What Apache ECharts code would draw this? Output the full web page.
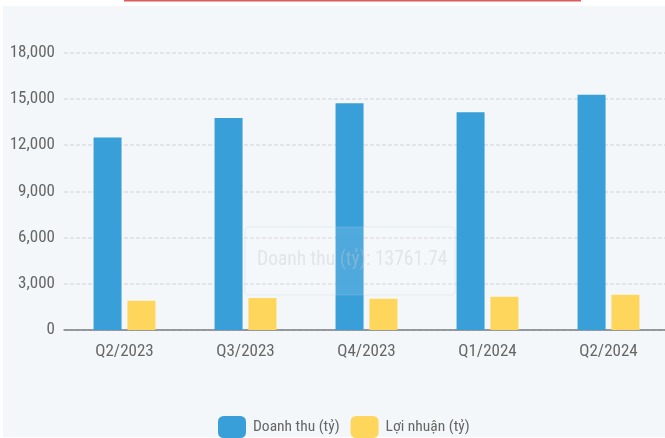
<!DOCTYPE html>
<html>
<head>
<meta charset="utf-8">
<script src="https://cdn.jsdelivr.net/npm/echarts@6/dist/echarts.min.js"></script>
<style>
html,body{margin:0;padding:0;background:#fff;}
#wrap{position:relative;width:665px;height:438px;}
#panel{position:absolute;left:3px;top:6px;width:662px;height:431px;background:#f3f7fa;}
#chart{position:absolute;left:0;top:0;width:665px;height:438px;}
</style>
</head>
<body>
<div id="wrap"><div id="panel"></div><div id="chart"></div></div>
<script>
const categories = ['Q2/2023', 'Q3/2023', 'Q4/2023', 'Q1/2024', 'Q2/2024'];
const revenue = [12500, 13761.74, 14720, 14140, 15280];
const profit = [1900, 2075, 2030, 2160, 2290];
const seriesNames = ['Doanh thu (tỷ)', 'Lợi nhuận (tỷ)'];
const tooltipText = 'Doanh thu (tỷ): 13761.74';

const FONT = '"Roboto Condensed", Roboto, sans-serif';
const chart = echarts.init(document.getElementById('chart'), null, {renderer: 'canvas'});
chart.setOption({
  backgroundColor: 'transparent',
  animation: false,
  textStyle: {fontFamily: FONT},
  grid: {left: 64, right: -4, top: 52.8, bottom: 108, containLabel: false, outerBoundsMode: 'none'},
  legend: {
    top: 411,
    left: 213,
    itemWidth: 28,
    itemHeight: 22,
    itemGap: 11,
    icon: 'roundRect',
    textStyle: {fontSize: 15.5, color: '#666', fontFamily: FONT, padding: [0, 0, 0, 2]},
    data: seriesNames
  },
  xAxis: {
    type: 'category',
    data: categories,
    axisLine: {lineStyle: {color: '#7a7d85', width: 1.5}},
    axisTick: {length: 6, lineStyle: {color: '#7a7d85', width: 1.5}},
    axisLabel: {fontSize: 17, color: '#666', margin: 13, fontFamily: FONT}
  },
  yAxis: {
    type: 'value',
    min: 0,
    max: 18000,
    interval: 3000,
    axisLine: {show: false},
    axisTick: {show: false},
    axisLabel: {
      fontSize: 17, color: '#666', margin: 9, fontFamily: FONT,
      formatter: v => v.toLocaleString('en-US')
    },
    splitLine: {lineStyle: {color: '#dcdfe3', type: [4, 2], width: 1.5}}
  },
  series: [
    {name: seriesNames[0], type: 'bar', data: revenue, barWidth: 28, barGap: '21%',
     itemStyle: {color: '#389fd9'}},
    {name: seriesNames[1], type: 'bar', data: profit, barWidth: 28,
     itemStyle: {color: '#fed65b'}}
  ],
  graphic: [
    {type: 'rect', z: 100, shape: {x: 124, y: 0, width: 457, height: 1.5}, style: {fill: '#e05a5a'}},
    {type: 'rect', z: 100, shape: {x: 245, y: 227, width: 210, height: 68, r: 4},
     style: {fill: 'rgba(255,255,255,0.12)', stroke: 'rgba(190,205,220,0.25)', lineWidth: 1,
             shadowBlur: 6, shadowColor: 'rgba(0,0,0,0.03)'}},
    {type: 'text', z: 101, left: 257, top: 250,
     style: {text: tooltipText, fontSize: 19.5, fontFamily: FONT, fill: 'rgba(195,200,206,0.4)'}}
  ]
});
</script>
</body>
</html>
